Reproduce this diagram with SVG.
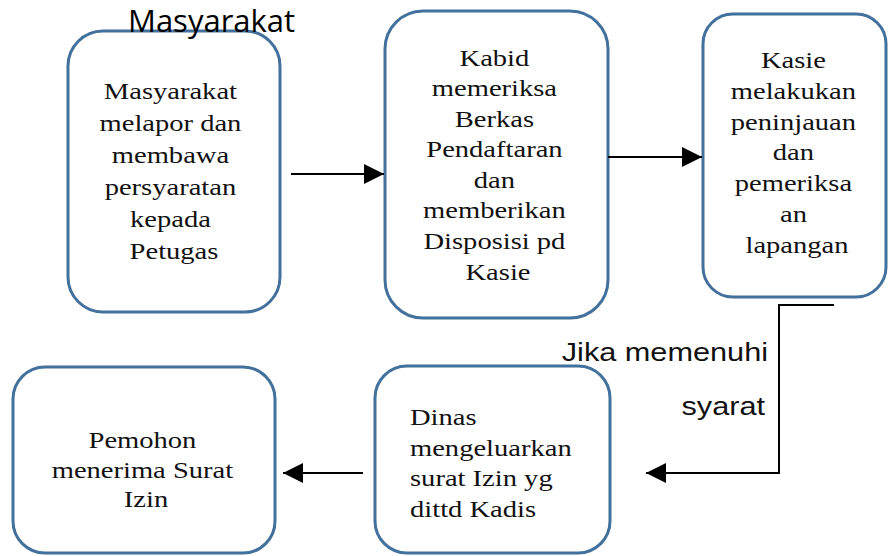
<svg xmlns="http://www.w3.org/2000/svg" width="889" height="556" viewBox="0 0 889 556">
<style>
.box{fill:#ffffff;stroke:#41719C;stroke-width:3}
.t{font-family:"Liberation Serif","Times New Roman",serif;font-size:24px;fill:#111111}
.c{text-anchor:middle}
.line{fill:none;stroke:#000000;stroke-width:2}
.lbl{font-family:"Liberation Sans",Arial,sans-serif;font-size:26px;fill:#111111;text-anchor:end}
.top{font-family:"Open Sans","Noto Sans",sans-serif;font-size:31px;fill:#000000}
</style>
<defs>
<marker id="ah" markerUnits="userSpaceOnUse" markerWidth="20" markerHeight="20" refX="20" refY="10" orient="auto">
<path d="M0,0 L20,10 L0,20 Z" fill="#000000"/>
</marker>
</defs>
<rect width="889" height="556" fill="#ffffff"/>
<g id="node1">
<rect class="box" x="68" y="31" width="212" height="281" rx="35"/>
<text class="t c" transform="translate(174 0) scale(1.19 1)">
<tspan x="0" y="99">Masyarakat</tspan>
<tspan x="0" y="131">melapor dan</tspan>
<tspan x="0" y="163">membawa</tspan>
<tspan x="0" y="195">persyaratan</tspan>
<tspan x="0" y="227">kepada</tspan>
<tspan x="0" y="259">Petugas</tspan>
</text>
</g>
<g id="node2">
<rect class="box" x="385" y="11" width="223" height="307" rx="38"/>
<text class="t c" transform="translate(498 0) scale(1.19 1)">
<tspan x="0" y="66">Kabid</tspan>
<tspan x="0" y="96">memeriksa</tspan>
<tspan x="0" y="127">Berkas</tspan>
<tspan x="0" y="157">Pendaftaran</tspan>
<tspan x="0" y="188">dan</tspan>
<tspan x="0" y="218">memberikan</tspan>
<tspan x="0" y="249">Disposisi pd</tspan>
<tspan x="0" y="280">Kasie</tspan>
</text>
</g>
<g id="node3">
<rect class="box" x="703" y="14" width="183" height="283" rx="30"/>
<text class="t c" transform="translate(797 0) scale(1.19 1)">
<tspan x="0" y="68">Kasie</tspan>
<tspan x="0" y="99">melakukan</tspan>
<tspan x="0" y="130">peninjauan</tspan>
<tspan x="0" y="160">dan</tspan>
<tspan x="0" y="191">pemeriksa</tspan>
<tspan x="0" y="222">an</tspan>
<tspan x="0" y="253">lapangan</tspan>
</text>
</g>
<g id="node4">
<rect class="box" x="13" y="367" width="262" height="186" rx="32"/>
<text class="t c" transform="translate(146 0) scale(1.19 1)">
<tspan x="0" y="448">Pemohon</tspan>
<tspan x="0" y="478">menerima Surat</tspan>
<tspan x="0" y="507">Izin</tspan>
</text>
</g>
<g id="node5">
<rect class="box" x="375" y="366" width="235" height="187" rx="32"/>
<text class="t" transform="translate(410 0) scale(1.19 1)">
<tspan x="0" y="425">Dinas</tspan>
<tspan x="0" y="456">mengeluarkan</tspan>
<tspan x="0" y="486">surat Izin yg</tspan>
<tspan x="0" y="517">dittd Kadis</tspan>
</text>
</g>
<g id="connectors">
<line class="line" x1="291" y1="174" x2="384" y2="174" marker-end="url(#ah)"/>
<line class="line" x1="608" y1="157" x2="702" y2="157" marker-end="url(#ah)"/>
<polyline class="line" points="834,305 779,305 779,473 646,473" marker-end="url(#ah)"/>
<line class="line" x1="363" y1="473" x2="283" y2="473" marker-end="url(#ah)"/>
<text class="lbl" transform="translate(768 361) scale(1.18 1)">Jika memenuhi</text>
<text class="lbl" transform="translate(765 415) scale(1.18 1)">syarat</text>
</g>
<text class="top" x="128" y="32">Masyarakat</text>
</svg>
